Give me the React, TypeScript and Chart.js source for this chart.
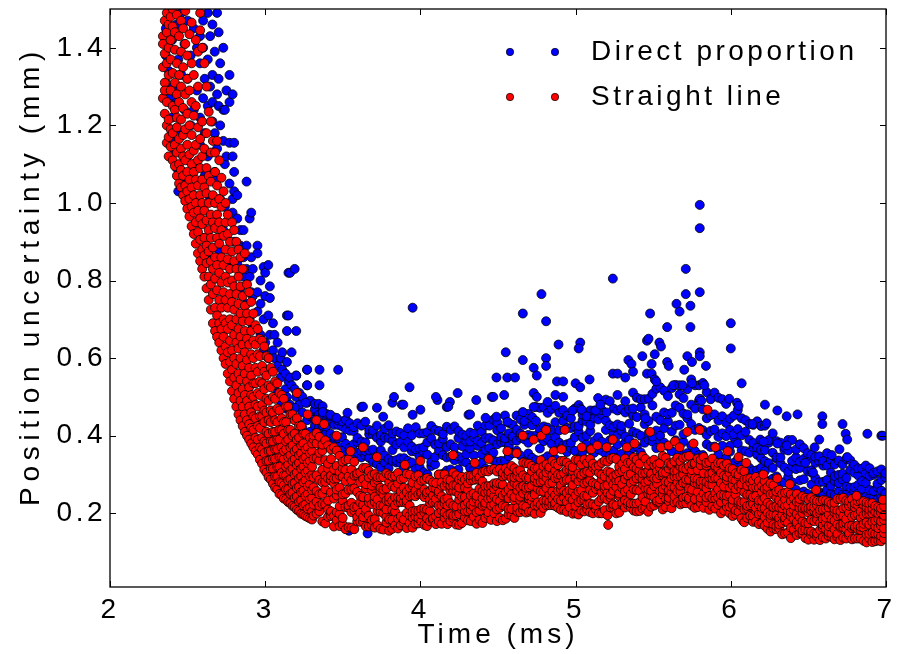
import React, { useEffect, useRef } from 'react';
import { Chart, registerables } from 'chart.js';

Chart.register(...registerables);

// ---- axis ticks / labels ----
const xTickValues = [2, 3, 4, 5, 6, 7];
const yTickValues = [0.2, 0.4, 0.6, 0.8, 1.0, 1.2, 1.4];
const xTitle = 'Time (ms)';
const yTitle = 'Position uncertainty (mm)';
const seriesNames = ['Direct proportion', 'Straight line'];

// ---- "Straight line" (red): rows of [time, value, value, ...] ----
const straightSteep = [
  [2.341, 1.27, 1.43, 1.41, 1.35],
  [2.353, 1.23, 1.31, 1.385, 1.47, 1.29],
  [2.366, 1.2, 1.26, 1.44, 1.49, 1.155, 1.36],
  [2.378, 1.17, 1.33, 1.215, 1.46, 1.4, 1.12],
  [2.391, 1.145, 1.19, 1.29, 1.42, 1.37, 1.48],
  [2.404, 1.18, 1.11, 1.25, 1.335, 1.455, 1.5],
  [2.418, 1.095, 1.15, 1.24, 1.31, 1.395, 1.44],
  [2.431, 1.07, 1.13, 1.195, 1.28, 1.36, 1.485, 1.22],
  [2.445, 1.05, 1.165, 1.1, 1.26, 1.33, 1.43],
  [2.458, 1.04, 1.085, 1.14, 1.215, 1.3, 1.39, 1.47],
  [2.471, 1.02, 1.07, 1.175, 1.245, 1.35, 1.12, 1.45],
  [2.485, 1.005, 1.045, 1.11, 1.19, 1.28, 1.41, 1.495],
  [2.498, 0.985, 1.03, 1.15, 1.08, 1.23, 1.32, 1.38],
  [2.512, 0.965, 1.01, 1.06, 1.125, 1.2, 1.29, 1.435],
  [2.526, 0.94, 0.99, 1.1, 1.04, 1.175, 1.26, 1.36, 1.465],
  [2.54, 0.92, 0.975, 1.02, 1.135, 1.08, 1.225, 1.33],
  [2.553, 0.895, 0.95, 1.0, 1.06, 1.15, 1.25, 1.42],
  [2.567, 0.87, 0.925, 0.98, 1.045, 1.11, 1.195, 1.3, 1.39],
  [2.581, 0.85, 0.905, 0.96, 1.02, 1.09, 1.165, 1.49, 1.445],
  [2.594, 0.83, 0.88, 0.945, 1.0, 1.12, 1.06, 1.21, 1.4],
  [2.608, 0.81, 0.865, 0.91, 0.98, 1.04, 1.14, 1.36],
  [2.622, 0.78, 0.845, 0.89, 0.955, 1.025, 1.09, 1.18, 1.3],
  [2.636, 0.75, 0.81, 0.875, 0.93, 1.0, 1.07, 1.235],
  [2.65, 0.725, 0.79, 0.85, 0.91, 0.97, 1.055, 1.13, 1.21],
  [2.663, 0.69, 0.765, 0.83, 0.885, 0.95, 1.02, 1.16],
  [2.677, 0.67, 0.73, 0.805, 0.86, 0.935, 1.0, 1.08, 1.13],
  [2.69, 0.655, 0.71, 0.775, 0.84, 0.91, 0.97, 1.045, 1.16],
  [2.704, 0.64, 0.69, 0.75, 0.82, 0.895, 0.95, 1.01, 1.11],
  [2.718, 0.62, 0.675, 0.73, 0.795, 0.86, 0.93, 0.99, 1.065],
  [2.732, 0.6, 0.655, 0.7, 0.77, 0.84, 0.915, 1.03],
  [2.745, 0.585, 0.63, 0.69, 0.75, 0.81, 0.88, 0.95, 1.0],
  [2.759, 0.56, 0.615, 0.675, 0.73, 0.795, 0.855, 0.92, 0.97],
  [2.773, 0.54, 0.59, 0.645, 0.7, 0.765, 0.83, 0.9],
  [2.786, 0.515, 0.57, 0.62, 0.685, 0.745, 0.8, 0.875, 0.95],
  [2.8, 0.495, 0.55, 0.6, 0.66, 0.725, 0.785, 0.85, 0.93],
  [2.814, 0.475, 0.53, 0.585, 0.64, 0.7, 0.765, 0.83, 0.9],
  [2.828, 0.455, 0.51, 0.56, 0.625, 0.675, 0.74, 0.81, 0.88],
  [2.841, 0.44, 0.49, 0.545, 0.6, 0.655, 0.715, 0.785, 0.86],
  [2.855, 0.425, 0.475, 0.52, 0.58, 0.635, 0.695, 0.76, 0.83],
  [2.869, 0.41, 0.455, 0.505, 0.56, 0.615, 0.67, 0.735, 0.87],
  [2.883, 0.4, 0.44, 0.49, 0.54, 0.595, 0.65, 0.715, 0.79],
  [2.897, 0.39, 0.43, 0.475, 0.525, 0.575, 0.635, 0.695, 0.77],
  [2.91, 0.38, 0.42, 0.46, 0.505, 0.555, 0.61, 0.67, 0.745],
  [2.924, 0.37, 0.415, 0.45, 0.5, 0.535, 0.6, 0.645, 0.715],
  [2.938, 0.36, 0.395, 0.445, 0.48, 0.535, 0.575, 0.635, 0.685],
  [2.952, 0.352, 0.39, 0.425, 0.475, 0.51, 0.565, 0.61, 0.675],
  [2.966, 0.338, 0.37, 0.42, 0.45, 0.505, 0.54, 0.605, 0.65],
  [2.98, 0.328, 0.365, 0.395, 0.45, 0.48, 0.535, 0.58, 0.645],
  [2.994, 0.313, 0.355, 0.385, 0.435, 0.465, 0.52, 0.565, 0.63],
  [3.008, 0.305, 0.335, 0.38, 0.41, 0.46, 0.495, 0.555, 0.605],
  [3.022, 0.293, 0.335, 0.36, 0.405, 0.44, 0.49, 0.53, 0.6],
  [3.036, 0.287, 0.315, 0.36, 0.385, 0.435, 0.465, 0.525, 0.575],
  [3.05, 0.276, 0.315, 0.34, 0.385, 0.41, 0.46, 0.5, 0.565],
  [3.064, 0.266, 0.295, 0.34, 0.365, 0.41, 0.44, 0.495, 0.54],
  [3.078, 0.262, 0.295, 0.32, 0.365, 0.39, 0.435, 0.47, 0.535],
  [3.092, 0.25, 0.28, 0.32, 0.345, 0.39, 0.415, 0.465, 0.51],
  [3.106, 0.247, 0.278, 0.305, 0.345, 0.37, 0.415, 0.445, 0.505],
  [3.12, 0.238, 0.272, 0.298, 0.34, 0.36, 0.405, 0.435, 0.495],
  [3.134, 0.236, 0.262, 0.298, 0.32, 0.365, 0.385, 0.435, 0.475],
  [3.148, 0.229, 0.262, 0.285, 0.325, 0.345, 0.39, 0.415, 0.475],
  [3.162, 0.226, 0.25, 0.288, 0.31, 0.35, 0.37, 0.415, 0.455],
  [3.176, 0.219, 0.253, 0.276, 0.315, 0.335, 0.375, 0.4, 0.455],
  [3.19, 0.216, 0.24, 0.278, 0.3, 0.34, 0.36, 0.405, 0.44],
  [3.204, 0.209, 0.243, 0.265, 0.305, 0.325, 0.365, 0.39, 0.445, 0.51],
  [3.218, 0.206, 0.23, 0.268, 0.29, 0.33, 0.35, 0.395, 0.425],
  [3.232, 0.199, 0.233, 0.255, 0.295, 0.315, 0.355, 0.375, 0.425],
  [3.246, 0.197, 0.22, 0.258, 0.28, 0.32, 0.34, 0.38, 0.405],
  [3.26, 0.193, 0.223, 0.245, 0.285, 0.305, 0.345, 0.365, 0.405],
  [3.274, 0.19, 0.212, 0.25, 0.27, 0.31, 0.33, 0.37, 0.455],
  [3.288, 0.187, 0.215, 0.236, 0.275, 0.295, 0.335, 0.355, 0.395],
  [3.302, 0.184, 0.205, 0.24, 0.26, 0.3, 0.32, 0.36, 0.38],
];

const straightBand = [
  [3.312, .194, .222, .267, .292, .341, .39, .40], [3.331, .199, .23, .257, .298, .342, .38, .407],
  [3.349, .205, .219, .249, .286, .336, .356, .397], [3.368, .179, .224, .25, .28, .312, .361, .377],
  [3.387, .174, .223, .262, .281, .298, .337, .388], [3.405, .191, .21, .233, .29, .315, .328, .375],
  [3.424, .193, .205, .254, .285, .297, .34, .365], [3.443, .166, .193, .238, .277, .289, .313, .37],
  [3.461, .182, .203, .246, .261, .29, .322, .362], [3.48, .167, .198, .218, .266, .297, .306, .348],
  [3.499, .171, .188, .233, .249, .294, .316, .333], [3.518, .159, .216, .251, .283, .312, .337],
  [3.537, .164, .214, .22, .261, .295, .339], [3.556, .163, .203, .227, .261, .285, .313],
  [3.574, .159, .207, .216, .264, .297, .333], [3.593, .179, .19, .217, .255, .297, .303],
  [3.612, .178, .201, .228, .245, .28, .306], [3.631, .178, .19, .222, .242, .288, .317],
  [3.649, .166, .203, .211, .264, .275, .317], [3.668, .166, .194, .228, .239, .292, .309],
  [3.687, .169, .183, .224, .26, .271, .298], [3.706, .163, .185, .229, .243, .279, .301],
  [3.724, .169, .206, .22, .236, .285, .293], [3.743, .16, .204, .22, .258, .266, .293],
  [3.762, .158, .2, .219, .248, .261, .293], [3.781, .176, .191, .21, .233, .264, .303],
  [3.799, .155, .184, .23, .241, .28, .298], [3.818, .16, .183, .209, .232, .27, .295],
  [3.837, .169, .204, .221, .241, .266, .296], [3.856, .161, .186, .229, .241, .276, .304],
  [3.874, .169, .192, .229, .239, .256, .288], [3.893, .177, .184, .229, .246, .266, .29],
  [3.912, .162, .201, .226, .233, .255, .302], [3.931, .175, .194, .22, .244, .266, .30],
  [3.949, .163, .189, .205, .246, .272, .279], [3.968, .173, .192, .206, .244, .258, .295],
  [3.987, .174, .188, .207, .249, .274, .298], [4.006, .179, .197, .211, .249, .253, .284],
  [4.025, .17, .203, .212, .242, .261, .286], [4.043, .167, .187, .21, .247, .254, .291],
  [4.062, .179, .206, .227, .236, .257, .286], [4.081, .182, .187, .228, .246, .266, .28],
  [4.1, .172, .192, .228, .237, .262, .278], [4.118, .179, .201, .22, .25, .256, .30],
  [4.137, .173, .207, .221, .244, .271, .28], [4.156, .188, .202, .225, .236, .271, .30],
  [4.175, .172, .195, .22, .239, .276, .287], [4.193, .18, .198, .226, .259, .271, .285],
  [4.212, .187, .194, .22, .258, .272, .305], [4.231, .171, .195, .218, .256, .272, .298],
  [4.25, .17, .198, .235, .249, .266, .287], [4.268, .175, .21, .217, .242, .284, .294],
  [4.287, .189, .205, .221, .242, .266, .287], [4.306, .182, .205, .228, .261, .277, .296],
  [4.325, .18, .208, .222, .246, .285, .297], [4.343, .191, .216, .23, .251, .286, .296],
  [4.362, .173, .203, .238, .245, .287, .304], [4.381, .183, .207, .225, .263, .286, .293],
  [4.4, .175, .219, .238, .257, .282, .306], [4.418, .188, .22, .227, .253, .269, .309],
  [4.437, .196, .203, .238, .256, .27, .308], [4.456, .183, .22, .239, .253, .271, .313],
  [4.475, .2, .223, .244, .263, .277, .314], [4.493, .18, .21, .236, .269, .278, .308],
  [4.512, .188, .214, .232, .253, .277, .314], [4.531, .182, .22, .246, .274, .295, .304],
  [4.55, .186, .217, .25, .255, .297, .316], [4.568, .197, .211, .239, .261, .299, .308],
  [4.587, .194, .211, .249, .272, .291, .322], [4.606, .188, .233, .242, .278, .292, .316],
  [4.625, .204, .214, .258, .272, .296, .308], [4.643, .203, .233, .243, .266, .292, .311],
  [4.662, .208, .22, .251, .27, .298, .331], [4.681, .202, .217, .259, .266, .292, .329],
  [4.7, .204, .237, .244, .267, .291, .328], [4.718, .205, .231, .243, .271, .308, .322],
  [4.737, .199, .22, .248, .283, .29, .316], [4.756, .219, .228, .263, .28, .296, .317],
  [4.775, .201, .222, .257, .281, .304, .337], [4.793, .214, .233, .256, .284, .298, .321],
  [4.812, .221, .233, .265, .291, .305, .326], [4.831, .221, .23, .247, .277, .312, .319],
  [4.85, .221, .237, .256, .279, .298, .335], [4.868, .219, .226, .247, .291, .31, .328],
  [4.887, .214, .237, .258, .291, .30, .324], [4.906, .209, .233, .261, .272, .298, .335],
  [4.925, .209, .24, .258, .284, .303, .335], [4.943, .204, .23, .253, .286, .312, .331],
  [4.962, .215, .241, .26, .286, .312, .323], [4.981, .199, .235, .257, .273, .309, .319],
  [5.0, .2, .219, .246, .289, .292, .338], [5.018, .197, .229, .256, .283, .303, .337],
  [5.037, .207, .234, .259, .291, .299, .326], [5.056, .205, .235, .245, .277, .304, .339],
  [5.075, .21, .223, .245, .28, .308, .33], [5.093, .203, .225, .26, .285, .305, .34],
  [5.112, .2, .223, .253, .278, .318, .328], [5.131, .21, .22, .263, .275, .31, .32],
  [5.15, .2, .23, .268, .273, .305, .323], [5.168, .2, .238, .253, .288, .30, .33],
  [5.187, .208, .24, .263, .27, .295, .335], [5.206, .195, .235, .253, .273, .308, .333],
  [5.225, .215, .24, .248, .288, .305, .34], [5.243, .215, .223, .258, .275, .295, .343],
  [5.262, .2, .22, .268, .285, .30, .34], [5.281, .202, .244, .251, .283, .306, .32],
  [5.3, .222, .227, .265, .275, .309, .328], [5.318, .215, .234, .256, .288, .314, .341],
  [5.337, .222, .229, .261, .296, .298, .33], [5.356, .215, .225, .249, .277, .301, .331],
  [5.375, .207, .225, .262, .284, .319, .344], [5.393, .205, .225, .26, .29, .315, .338],
  [5.412, .206, .228, .258, .295, .31, .328], [5.431, .212, .241, .274, .288, .303, .348],
  [5.45, .213, .23, .264, .279, .304, .34], [5.468, .204, .25, .262, .284, .309, .325],
  [5.487, .217, .246, .258, .294, .302, .333], [5.506, .22, .241, .27, .29, .324, .338],
  [5.525, .228, .232, .276, .29, .309, .326], [5.543, .228, .236, .257, .298, .317, .329],
  [5.562, .21, .248, .262, .298, .305, .348], [5.581, .216, .237, .27, .282, .305, .343],
  [5.6, .231, .24, .259, .28, .315, .329], [5.618, .213, .253, .269, .29, .322, .327],
  [5.637, .228, .244, .267, .295, .309, .334], [5.656, .229, .256, .279, .295, .309, .343],
  [5.675, .223, .257, .271, .296, .32, .334], [5.693, .226, .24, .278, .30, .316, .343],
  [5.712, .226, .242, .276, .287, .314, .346], [5.731, .234, .239, .264, .287, .321, .348],
  [5.75, .22, .254, .261, .30, .311, .327], [5.768, .214, .237, .279, .29, .325, .329],
  [5.787, .216, .255, .276, .288, .311, .341], [5.806, .226, .24, .275, .282, .324, .338],
  [5.825, .214, .251, .27, .284, .303, .345], [5.843, .229, .241, .264, .281, .323, .33],
  [5.862, .209, .245, .275, .292, .301, .332], [5.881, .218, .239, .274, .29, .304, .341],
  [5.9, .212, .238, .252, .291, .317, .322], [5.918, .222, .241, .262, .29, .316, .33],
  [5.937, .2, .228, .247, .278, .304, .33], [5.956, .207, .242, .247, .269, .297, .323],
  [5.975, .216, .23, .245, .285, .294, .328], [5.993, .2, .217, .247, .266, .304, .316],
  [6.012, .193, .221, .235, .272, .288, .314], [6.031, .197, .208, .248, .262, .285, .303],
  [6.05, .204, .224, .231, .27, .295, .30], [6.068, .187, .219, .228, .262, .275, .312],
  [6.087, .177, .211, .229, .254, .288, .308], [6.106, .188, .212, .219, .248, .271, .289],
  [6.125, .192, .194, .221, .248, .279, .29], [6.143, .178, .193, .224, .242, .267, .284],
  [6.162, .179, .206, .214, .245, .267, .294], [6.181, .172, .198, .222, .233, .266, .283],
  [6.2, .175, .201, .214, .232, .255, .271], [6.218, .168, .19, .213, .239, .263, .283],
  [6.237, .16, .176, .201, .227, .259, .268], [6.256, .153, .187, .196, .221, .249, .277],
  [6.275, .161, .171, .197, .216, .25, .272], [6.293, .159, .167, .195, .218, .241, .256],
  [6.312, .161, .171, .188, .215, .234, .26], [6.331, .146, .175, .196, .213, .225, .25],
  [6.35, .148, .18, .188, .219, .236, .253], [6.368, .15, .176, .198, .207, .221, .255],
  [6.387, .136, .163, .192, .203, .232, .249], [6.406, .154, .158, .185, .208, .22, .239],
  [6.425, .144, .171, .177, .198, .229, .25], [6.443, .149, .163, .19, .213, .227, .237],
  [6.462, .147, .156, .18, .201, .213, .244], [6.481, .136, .158, .175, .209, .213, .24],
  [6.5, .132, .154, .174, .202, .212, .236], [6.518, .145, .153, .183, .207, .217, .241],
  [6.537, .132, .148, .18, .206, .216, .234], [6.556, .14, .148, .184, .20, .22, .232],
  [6.575, .131, .157, .175, .201, .209, .231], [6.593, .138, .162, .17, .186, .21, .234],
  [6.612, .135, .159, .177, .189, .211, .233], [6.631, .141, .151, .167, .197, .215, .229],
  [6.65, .139, .147, .169, .185, .221, .225], [6.668, .133, .159, .181, .203, .211, .227],
  [6.687, .139, .147, .171, .193, .207, .237], [6.706, .131, .163, .167, .195, .205, .237],
  [6.725, .137, .163, .173, .193, .213, .24], [6.743, .135, .159, .175, .185, .215, .233],
  [6.762, .143, .149, .167, .201, .219, .231], [6.781, .133, .161, .169, .191, .221, .237],
  [6.8, .135, .161, .165, .195, .215, .225], [6.818, .135, .159, .169, .197, .221, .231],
  [6.837, .135, .157, .165, .189, .205, .232], [6.856, .129, .163, .173, .195, .221, .231],
  [6.875, .125, .145, .177, .199, .215, .228], [6.893, .135, .147, .171, .199, .209, .225],
  [6.912, .126, .15, .178, .20, .212, .226], [6.931, .128, .148, .166, .181, .204, .219],
  [6.95, .13, .146, .162, .185, .199, .216], [6.968, .128, .141, .168, .179, .201, .213],
  [6.987, .134, .149, .161, .183, .194, .218],
];

// red points sticking out above / below the dense band: [time, value]
const straightScatter = [
  [3.33, .44], [3.38, .43], [3.46, .40], [3.55, .36], [3.63, .37], [3.72, .345], [3.9, .325],
  [4.0, .335], [4.21, .35], [4.35, .33], [4.44, .34], [4.56, .36], [4.62, .355], [4.66, .40],
  [4.73, .39], [4.78, .40], [4.81, .415], [4.86, .36], [4.91, .365], [4.93, .415], [5.04, .37],
  [5.1, .365], [5.14, .375], [5.2, .37], [5.21, .17], [5.24, .39], [5.33, .37], [5.38, .38],
  [5.48, .41], [5.55, .37], [5.6, .375], [5.64, .385], [5.67, .37], [5.72, .41], [5.76, .38],
  [5.8, .415], [5.85, .467], [5.9, .37], [5.98, .36], [6.05, .345], [6.1, .33], [6.21, .30],
  [6.3, .29], [6.38, .275], [6.55, .26], [6.81, .245], [6.98, .235],
];

// ---- "Direct proportion" (blue): rows of [time, value, value, ...] ----
const directSteep = [
  [2.36, 1.31, 1.45, 1.38], [2.38, 1.27, 1.34, 1.48], [2.4, 1.16, 1.22, 1.42],
  [2.41, 1.14, 1.3], [2.43, 1.09, 1.26, 1.46], [2.44, 1.03, 1.19, 1.37],
  [2.46, 1.06, 1.33, 1.49], [2.48, 1.04, 1.24, 1.41], [2.5, 1.32, 1.12, 1.47],
  [2.52, 1.2, 1.03, 1.38], [2.54, 1.24, 1.45, 1.1], [2.56, 0.95, 1.29, 1.4],
  [2.58, 1.43, 1.22, 1.36, 1.15], [2.6, 1.4, 1.27, 0.91, 1.47], [2.61, 1.32, 1.18, 1.07],
  [2.63, 1.37, 1.25, 1.49, 1.12], [2.645, 1.3, 1.43, 1.01, 0.86], [2.66, 1.33, 1.26, 1.21, 1.46],
  [2.675, 1.18, 1.08, 1.39, 0.95], [2.69, 1.49, 1.06, 1.28, 1.14], [2.7, 1.44, 1.25, 1.32, 0.88],
  [2.71, 1.01, 1.2, 1.36], [2.73, 1.4, 1.16, 1.24, 0.93], [2.74, 1.24, 1.1, 0.99],
  [2.75, 1.12, 1.29, 0.84], [2.77, 1.33, 1.155, 1.26, 1.05], [2.79, 1.28, 1.01, 0.975, 1.12],
  [2.8, 1.155, 1.08, 1.03, 0.9], [2.82, 0.845, 0.96, 1.02], [2.84, 0.78, 0.93, 0.89],
  [2.86, 0.93, 0.86, 0.81], [2.88, 1.055, 0.89, 0.83, 0.74], [2.9, 0.96, 0.81, 0.7],
  [2.91, 0.975, 0.86, 0.77], [2.92, 0.76, 0.83, 0.68], [2.95, 0.89, 0.87, 0.77, 0.72],
  [2.97, 0.8, 0.74, 0.66], [2.99, 0.835, 0.7, 0.62], [3.0, 0.82, 0.76, 0.64],
  [3.02, 0.84, 0.71, 0.6], [3.03, 0.785, 0.755, 0.66], [3.05, 0.62, 0.69, 0.57],
  [3.06, 0.66, 0.6, 0.53], [3.08, 0.64, 0.58, 0.51], [3.1, 0.6, 0.55, 0.49],
  [3.11, 0.615, 0.57], [3.13, 0.56, 0.52, 0.47], [3.14, 0.71, 0.67, 0.59, 0.5],
  [3.15, 0.82, 0.71, 0.54], [3.16, 0.82, 0.55, 0.48], [3.17, 0.615, 0.53, 0.46],
  [3.19, 0.83, 0.52, 0.47], [3.2, 0.67, 0.555, 0.5, 0.44], [3.22, 0.51, 0.48, 0.43],
  [3.24, 0.5, 0.46, 0.42], [3.27, 0.57, 0.53, 0.485, 0.44], [3.29, 0.49, 0.45, 0.41],
];

const directBand = [
  [3.32, .426, .442, .468, .482], [3.345, .42, .448, .454, .482], [3.37, .41, .426, .45, .476],
  [3.395, .408, .424, .448, .456], [3.42, .384, .405, .439, .451], [3.445, .384, .397, .428, .447],
  [3.47, .372, .394, .428, .439], [3.495, .362, .396, .424, .437], [3.52, .35, .379, .417, .441],
  [3.545, .353, .369, .413, .432], [3.57, .34, .378, .412, .422], [3.595, .356, .383, .394, .432],
  [3.62, .344, .36, .385, .426], [3.645, .349, .36, .383, .436], [3.67, .343, .362, .404, .415],
  [3.695, .332, .364, .404, .413], [3.72, .327, .347, .395, .426], [3.745, .319, .362, .385, .402],
  [3.77, .331, .349, .395, .418], [3.795, .316, .34, .394, .427], [3.82, .335, .363, .387, .406],
  [3.845, .331, .337, .377, .411], [3.87, .33, .342, .383, .407], [3.895, .317, .342, .37, .401],
  [3.92, .326, .335, .384, .419], [3.945, .331, .36, .372, .401], [3.97, .314, .359, .365, .422],
  [3.995, .319, .346, .367, .406], [4.02, .306, .358, .37, .406], [4.045, .30, .351, .383, .409],
  [4.07, .322, .332, .393, .425], [4.095, .326, .345, .377, .415], [4.12, .30, .361, .38, .412],
  [4.145, .302, .35, .392, .404], [4.17, .31, .344, .371, .423], [4.195, .313, .346, .378, .415],
  [4.22, .337, .352, .37, .424], [4.245, .313, .346, .394, .412], [4.27, .334, .343, .373, .403],
  [4.295, .331, .352, .385, .40], [4.32, .317, .367, .385, .408], [4.345, .312, .349, .396, .405],
  [4.37, .316, .374, .387, .426], [4.395, .33, .352, .381, .41], [4.42, .315, .363, .394, .426],
  [4.445, .346, .368, .394, .426], [4.47, .337, .356, .388, .441], [4.495, .333, .378, .414, .434],
  [4.52, .335, .383, .397, .419], [4.545, .335, .383, .393, .452], [4.57, .347, .373, .406, .433],
  [4.595, .355, .388, .398, .428], [4.62, .361, .387, .415, .452], [4.645, .349, .395, .405, .442],
  [4.67, .333, .391, .428, .438], [4.695, .354, .382, .402, .456], [4.72, .343, .399, .427, .448],
  [4.745, .337, .40, .438, .474], [4.77, .367, .395, .416, .472], [4.795, .34, .386, .424, .473],
  [4.82, .347, .392, .421, .459], [4.845, .347, .379, .414, .469], [4.87, .34, .396, .435, .477],
  [4.895, .368, .382, .414, .459], [4.92, .368, .375, .438, .466], [4.945, .358, .378, .42, .452],
  [4.97, .368, .382, .42, .445], [4.995, .361, .396, .424, .47], [5.02, .342, .41, .425, .479],
  [5.045, .358, .395, .439, .454], [5.07, .377, .40, .437, .455], [5.095, .364, .412, .428, .465],
  [5.12, .356, .386, .446, .465], [5.145, .365, .396, .442, .497], [5.17, .361, .384, .454, .466],
  [5.195, .353, .415, .439, .493], [5.22, .349, .388, .427, .489], [5.245, .361, .404, .423, .47],
  [5.27, .377, .401, .429, .465], [5.295, .353, .413, .425, .469], [5.32, .382, .398, .46, .489],
  [5.345, .353, .39, .431, .468], [5.37, .368, .41, .452, .511], [5.395, .372, .406, .448, .498],
  [5.42, .357, .40, .473, .494], [5.445, .382, .43, .455, .494], [5.47, .39, .407, .438, .495],
  [5.495, .385, .398, .478, .508], [5.52, .368, .413, .449, .521], [5.545, .386, .40, .44, .525],
  [5.57, .382, .419, .46, .516], [5.595, .373, .437, .456, .502], [5.62, .36, .411, .459, .523],
  [5.645, .388, .426, .478, .531], [5.67, .355, .428, .472, .507], [5.695, .384, .404, .457, .497],
  [5.72, .355, .445, .455, .52], [5.745, .375, .43, .48, .545], [5.77, .36, .415, .47, .53],
  [5.795, .35, .42, .49, .53], [5.82, .35, .414, .468, .536], [5.845, .378, .402, .445, .512],
  [5.87, .371, .412, .453, .494], [5.895, .372, .416, .455, .511], [5.92, .352, .397, .439, .498],
  [5.945, .374, .406, .45, .494], [5.97, .342, .399, .433, .482], [5.995, .359, .374, .415, .444],
  [6.02, .33, .396, .404, .452], [6.045, .339, .38, .417, .466], [6.07, .322, .362, .401, .445],
  [6.095, .31, .36, .41, .44], [6.12, .317, .356, .389, .43], [6.145, .309, .37, .381, .428],
  [6.17, .311, .351, .369, .437], [6.195, .317, .342, .364, .425], [6.22, .309, .334, .363, .426],
  [6.245, .283, .329, .382, .389], [6.27, .289, .317, .356, .406], [6.295, .295, .341, .344, .386],
  [6.32, .28, .329, .344, .382], [6.345, .28, .318, .364, .371], [6.37, .294, .307, .362, .389],
  [6.395, .28, .321, .335, .389], [6.42, .261, .314, .344, .364], [6.445, .285, .317, .333, .378],
  [6.47, .256, .288, .34, .368], [6.495, .25, .309, .34, .355], [6.52, .274, .305, .311, .351],
  [6.545, .251, .291, .33, .345], [6.57, .255, .28, .334, .347], [6.595, .245, .281, .323, .335],
  [6.62, .26, .286, .323, .355], [6.645, .251, .271, .305, .338], [6.67, .247, .283, .296, .326],
  [6.695, .257, .278, .299, .336], [6.72, .248, .287, .302, .326], [6.745, .249, .27, .291, .34],
  [6.77, .243, .266, .312, .337], [6.795, .255, .267, .305, .325], [6.82, .251, .273, .298, .316],
  [6.845, .244, .263, .283, .315], [6.87, .242, .278, .303, .323], [6.895, .24, .26, .296, .316],
  [6.92, .24, .257, .299, .304], [6.945, .236, .267, .276, .308], [6.97, .241, .258, .286, .313],
  [6.995, .244, .251, .293, .303],
];

// scattered blue points above the band and a few under the red band: [time, value]
const directScatter = [
  [3.14, .474], [3.19, .472], [3.26, .485], [3.37, .461], [3.42, .454], [3.46, .446], [3.53, .459],
  [3.62, .474], [3.72, .472], [3.76, .449], [3.82, .485], [3.88, .48], [3.95, .454], [4.0, .467],
  [4.11, .492], [4.17, .474], [4.19, .487], [4.31, .454], [4.36, .492], [4.42, .446], [4.49, .449],
  [4.56, .436], [4.66, .461], [4.73, .474], [4.82, .487], [3.27, .57], [3.35, .57], [3.47, .57],
  [3.27, .53], [3.35, .53], [3.2, .555], [3.93, .525], [3.95, .73], [3.83, .50], [3.89, .48],
  [3.63, .475], [4.1, .50], [4.24, .51], [4.18, .475], [4.32, .455], [4.46, .50], [4.54, .505],
  [4.47, .50], [4.49, .55], [4.56, .55], [4.61, .55], [4.55, .615], [4.66, .595], [4.66, .715],
  [4.78, .765], [4.81, .695], [4.81, .60], [4.81, .58], [4.73, .575], [4.75, .555], [4.73, .51],
  [4.75, .50], [4.87, .505], [4.92, .50], [4.88, .54], [4.92, .54], [4.89, .635], [5.03, .64],
  [5.02, .625], [5.09, .545], [5.0, .535], [5.03, .525], [4.98, .465], [5.03, .47], [5.04, .467],
  [5.07, .45], [5.13, .465], [5.16, .48], [5.2, .46], [5.27, .505], [5.24, .56], [5.27, .56],
  [5.32, .55], [5.24, .805], [5.34, .595], [5.36, .585], [5.37, .565], [5.37, .47], [5.43, .605],
  [5.45, .445], [5.46, .645], [5.46, .56], [5.49, .56], [5.49, .585], [5.51, .61], [5.51, .545],
  [5.52, .54], [5.48, .715], [5.47, .65], [5.54, .64], [5.55, .63], [5.59, .68], [5.59, .59],
  [5.6, .58], [5.63, .53], [5.65, .74], [5.67, .72], [5.67, .53], [5.69, .53], [5.7, .57],
  [5.71, .83], [5.71, .765], [5.72, .605], [5.74, .735], [5.74, .68], [5.75, .59], [5.75, .535],
  [5.8, .995], [5.8, .935], [5.8, .77], [5.8, .615], [5.8, .605], [5.8, .495], [5.81, .49],
  [5.83, .53], [5.84, .58], [5.99, .495], [6.0, .69], [6.0, .625], [6.04, .485], [6.05, .477],
  [6.07, .535], [6.14, .43], [6.19, .39], [6.21, .385], [6.22, .48], [6.23, .432], [6.3, .465],
  [6.3, .38], [6.36, .45], [6.36, .375], [6.43, .455], [6.48, .33], [6.53, .305], [6.54, .37],
  [6.57, .39], [6.59, .45], [6.59, .43], [6.65, .35], [6.7, .365], [6.72, .43], [6.74, .405],
  [6.75, .39], [6.75, .345], [6.88, .405], [6.97, .40], [6.98, .40],
  [3.66, .148], [6.08, .18], [3.54, .155],
];

function rowsToPoints(rows: number[][]) {
  const pts: { x: number; y: number }[] = [];
  rows.forEach((row) => {
    for (let i = 1; i < row.length; i++) pts.push({ x: row[0], y: row[i] });
  });
  return pts;
}
function pairsToPoints(pairs: number[][]) {
  return pairs.map(([x, y]) => ({ x, y }));
}

const FONT = 'Liberation Sans';
const BLUE = '#0000ff';
const RED = '#ff0000';

function wrapTitle(scale: any, ctx: any, spacing: string, dy: number) {
  if (!scale || scale.__wrapped) return;
  const orig = scale.drawTitle.bind(scale);
  scale.drawTitle = (...args: any[]) => {
    ctx.save();
    ctx.letterSpacing = spacing;
    ctx.translate(0, dy);
    orig(...args);
    ctx.restore();
  };
  scale.__wrapped = true;
}

const framePlugin = {
  id: 'frameAndLegend',
  beforeDraw(chart: any) {
    const ctx = chart.ctx;
    ctx.letterSpacing = '3.5px';
    wrapTitle(chart.scales.y, ctx, '5.7px', -22);
    wrapTitle(chart.scales.x, ctx, '4px', 0);
  },
  afterDatasetsDraw(chart: any) {
    const { ctx, chartArea: a, scales } = chart;
    ctx.save();
    ctx.strokeStyle = '#000';
    ctx.lineWidth = 1.3;
    ctx.strokeRect(a.left, a.top, a.right - a.left, a.bottom - a.top);
    ctx.lineWidth = 1;
    const tl = 6;
    ctx.beginPath();
    xTickValues.forEach((v) => {
      const px = Math.round(scales.x.getPixelForValue(v)) + 0.5;
      ctx.moveTo(px, a.bottom);
      ctx.lineTo(px, a.bottom - tl);
      ctx.moveTo(px, a.top);
      ctx.lineTo(px, a.top + tl);
    });
    yTickValues.forEach((v) => {
      const py = Math.round(scales.y.getPixelForValue(v)) + 0.5;
      ctx.moveTo(a.left, py);
      ctx.lineTo(a.left + tl, py);
      ctx.moveTo(a.right, py);
      ctx.lineTo(a.right - tl, py);
    });
    ctx.stroke();
    ctx.restore();
  },
  afterDraw(chart: any) {
    const ctx = chart.ctx;
    ctx.save();
    ctx.letterSpacing = '3.5px';
    const items = [
      { label: seriesNames[0], color: BLUE, y: 52 },
      { label: seriesNames[1], color: RED, y: 97 },
    ];
    items.forEach((it) => {
      [510, 555].forEach((mx) => {
        ctx.beginPath();
        ctx.arc(mx, it.y, 3.7, 0, Math.PI * 2);
        ctx.fillStyle = it.color;
        ctx.fill();
        ctx.lineWidth = 0.7;
        ctx.strokeStyle = '#000';
        ctx.stroke();
      });
      ctx.fillStyle = '#000';
      ctx.font = `28px "${FONT}"`;
      ctx.textAlign = 'left';
      ctx.textBaseline = 'middle';
      ctx.fillText(it.label, 591, it.y);
    });
    ctx.restore();
  },
};

export default function App() {
  const canvasRef = useRef<HTMLCanvasElement | null>(null);

  useEffect(() => {
    document.body.style.margin = '0';
    const canvas = canvasRef.current;
    if (!canvas) return;
    const tickFont = { family: FONT, size: 28 };
    const pointStyle = {
      pointRadius: 4.5,
      pointHoverRadius: 4.5,
      pointBorderColor: '#000',
      pointBorderWidth: 0.8,
      clip: 0,
    };
    const chart = new Chart(canvas, {
      type: 'scatter',
      data: {
        datasets: [
          {
            label: seriesNames[1],
            data: [
              ...rowsToPoints(straightSteep),
              ...rowsToPoints(straightBand),
              ...pairsToPoints(straightScatter),
            ],
            pointBackgroundColor: RED,
            order: 1,
            ...pointStyle,
          },
          {
            label: seriesNames[0],
            data: [
              ...rowsToPoints(directSteep),
              ...rowsToPoints(directBand),
              ...pairsToPoints(directScatter),
            ],
            pointBackgroundColor: BLUE,
            order: 2,
            ...pointStyle,
          },
        ],
      },
      options: {
        responsive: false,
        devicePixelRatio: 1,
        animation: false,
        events: [],
        layout: { padding: { top: 9, right: 17, left: 0, bottom: 0 } },
        plugins: {
          legend: { display: false },
          tooltip: { enabled: false },
        },
        scales: {
          x: {
            type: 'linear',
            min: 2,
            max: 7,
            grid: { display: false, drawTicks: false },
            border: { display: false },
            ticks: {
              font: tickFont,
              color: '#000',
              padding: 6,
              autoSkip: false,
              maxRotation: 0,
              callback: (v: any) => String(v),
            },
            afterBuildTicks: (axis: any) => {
              axis.ticks = xTickValues.map((value) => ({ value }));
            },
            afterFit: (axis: any) => {
              axis.height = 67;
              axis.paddingLeft = 0;
              axis.paddingRight = 0;
            },
            title: {
              display: true,
              text: xTitle,
              font: { family: FONT, size: 28 },
              color: '#000',
              padding: { top: 0, bottom: 2 },
            },
          },
          y: {
            type: 'linear',
            min: 0.01,
            max: 1.5,
            grid: { display: false, drawTicks: false },
            border: { display: false },
            ticks: {
              font: tickFont,
              color: '#000',
              padding: 4,
              callback: (v: any) => Number(v).toFixed(1),
            },
            afterBuildTicks: (axis: any) => {
              axis.ticks = yTickValues.map((value) => ({ value }));
            },
            afterFit: (axis: any) => {
              axis.width = 110;
              axis.paddingTop = 0;
              axis.paddingBottom = 0;
            },
            title: {
              display: true,
              text: yTitle,
              font: { family: FONT, size: 28 },
              color: '#000',
              padding: { top: 14, bottom: 0 },
            },
          },
        },
      },
      plugins: [framePlugin],
    } as any);
    return () => chart.destroy();
  }, []);

  return (
    <div style={{ width: 903, height: 654 }}>
      <canvas ref={canvasRef} width={903} height={654} style={{ display: 'block' }} />
    </div>
  );
}
